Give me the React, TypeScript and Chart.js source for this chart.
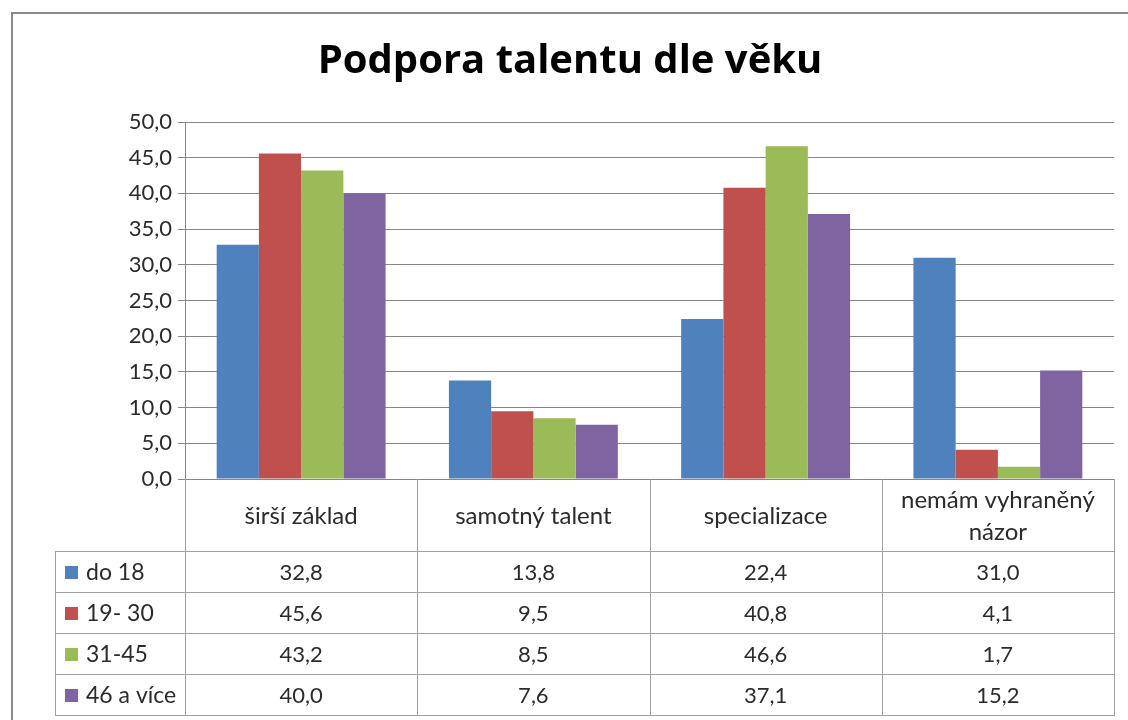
import React, { useEffect, useRef } from "react";
import { Chart, registerables } from "chart.js";

Chart.register(...registerables);

const chartTitle = "Podpora talentu dle věku";
const categories: string[][] = [
  ["širší základ"],
  ["samotný talent"],
  ["specializace"],
  ["nemám vyhraněný", "názor"],
];
const seriesNames = ["do 18", "19- 30", "31-45", "46 a více"];
const do18 = [32.8, 13.8, 22.4, 31.0];
const age19to30 = [45.6, 9.5, 40.8, 4.1];
const age31to45 = [43.2, 8.5, 46.6, 1.7];
const age46plus = [40.0, 7.6, 37.1, 15.2];
const seriesValues = [do18, age19to30, age31to45, age46plus];
const seriesColors = ["#4F81BD", "#C0504D", "#9BBB59", "#8064A2"];
const yMin = 0;
const yMax = 50;
const yStep = 5;

const FONT = "Lato, 'Open Sans', sans-serif";
const TITLE_FONT = "'Open Sans', Lato, sans-serif";
const TEXT = "#2b2b2b";
const GRID = "#868686";
const TABLE_LINE = "#a0a0a0";

const fmt = (v: number) => v.toFixed(1).replace(".", ",");

const HEADER_H = 72;
const ROW_H = 41;
const LEGEND_LEFT = 55;

const framePlugin = {
  id: "frame",
  beforeDraw(chart: any) {
    const ctx = chart.ctx;
    ctx.save();
    ctx.fillStyle = "#ffffff";
    ctx.fillRect(0, 0, chart.width, chart.height);
    ctx.strokeStyle = "#8a8a8a";
    ctx.lineWidth = 2;
    ctx.strokeRect(12, 13, chart.width + 50, chart.height + 50);
    ctx.restore();
  },
};

const tablePlugin = {
  id: "dataTable",
  afterDraw(chart: any) {
    const ctx = chart.ctx;
    const { left, right, bottom } = chart.chartArea;
    const n = categories.length;
    const cw = (right - left) / n;
    const tableBottom = bottom + HEADER_H + ROW_H * seriesNames.length;
    ctx.save();
    ctx.strokeStyle = TABLE_LINE;
    ctx.lineWidth = 1;
    ctx.beginPath();
    for (let i = 0; i <= n; i++) {
      const x = Math.round(left + i * cw) + 0.5;
      ctx.moveTo(x, bottom);
      ctx.lineTo(x, tableBottom);
    }
    ctx.moveTo(LEGEND_LEFT + 0.5, bottom + HEADER_H);
    ctx.lineTo(LEGEND_LEFT + 0.5, tableBottom);
    for (let r = 0; r <= seriesNames.length; r++) {
      const y = Math.round(bottom + HEADER_H + r * ROW_H) + 0.5;
      ctx.moveTo(LEGEND_LEFT, y);
      ctx.lineTo(right + 1, y);
    }
    ctx.stroke();

    ctx.fillStyle = TEXT;
    ctx.font = `24px ${FONT}`;
    ctx.textAlign = "center";
    ctx.textBaseline = "middle";
    const lineH = 32;
    categories.forEach((lines, i) => {
      const cx = left + (i + 0.5) * cw;
      const cy = bottom + HEADER_H / 2 + 1;
      lines.forEach((t, k) => {
        const y = cy + (k - (lines.length - 1) / 2) * lineH;
        ctx.fillText(t, cx, y);
      });
    });

    seriesNames.forEach((name, r) => {
      const cy = bottom + HEADER_H + (r + 0.5) * ROW_H + 1;
      ctx.fillStyle = seriesColors[r];
      ctx.fillRect(LEGEND_LEFT + 10, Math.round(cy - 7), 13, 13);
      ctx.fillStyle = TEXT;
      ctx.textAlign = "left";
      ctx.font = `23px ${FONT}`;
      ctx.fillText(name, LEGEND_LEFT + 31, cy);
      ctx.textAlign = "center";
      ctx.font = `22px ${FONT}`;
      seriesValues[r].forEach((v, i) => {
        ctx.fillText(fmt(v), left + (i + 0.5) * cw, cy);
      });
    });
    ctx.restore();
  },
};

export default function App() {
  const ref = useRef<HTMLCanvasElement | null>(null);
  useEffect(() => {
    if (!ref.current) return;
    const chart = new Chart(ref.current, {
      type: "bar",
      data: {
        labels: categories,
        datasets: seriesNames.map((name, i) => ({
          label: name,
          data: seriesValues[i],
          backgroundColor: seriesColors[i],
          borderWidth: 0,
          barPercentage: 1,
          categoryPercentage: 4 / 5.5,
        })),
      },
      options: {
        responsive: false,
        animation: false,
        layout: { padding: { left: 26, right: 14, top: 36, bottom: 241 } },
        plugins: {
          legend: { display: false },
          tooltip: { enabled: false },
          title: {
            display: true,
            text: chartTitle,
            color: "#000000",
            font: { family: TITLE_FONT, size: 40, weight: "bold" },
            padding: { top: 2, bottom: 36 },
          },
        },
        scales: {
          x: { display: false },
          y: {
            min: yMin,
            max: yMax,
            ticks: {
              stepSize: yStep,
              color: TEXT,
              font: { family: FONT, size: 22 },
              padding: 6,
              callback: (v: any) => fmt(Number(v)),
            },
            grid: { color: GRID, tickLength: 7, drawTicks: true },
            border: { display: true, color: GRID },
            afterFit: (s: any) => {
              s.width = 159;
            },
          },
        },
      },
      plugins: [framePlugin, tablePlugin],
    });
    return () => chart.destroy();
  }, []);
  return (
    <div style={{ position: "absolute", left: 0, top: 0, width: 1128, height: 720 }}>
      <canvas ref={ref} width={1128} height={720} style={{ display: "block" }} />
    </div>
  );
}
